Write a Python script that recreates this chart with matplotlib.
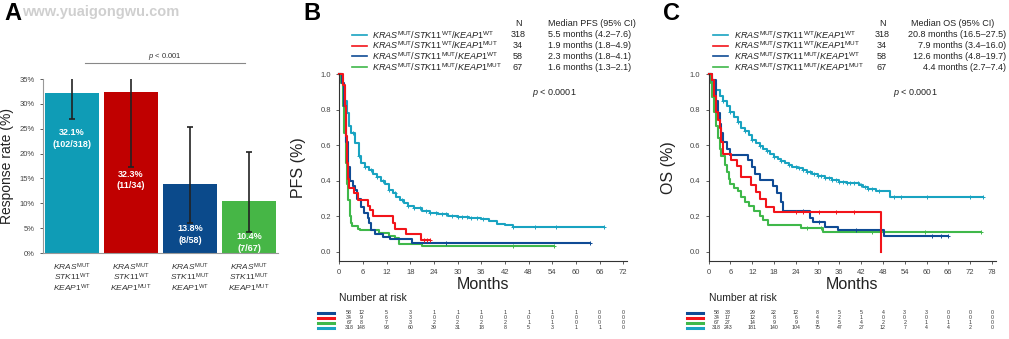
import numpy as np
import matplotlib
matplotlib.use("Agg")
import matplotlib.pyplot as plt
from matplotlib.lines import Line2D
from matplotlib.transforms import blended_transform_factory

plt.rcParams['font.family'] = ['Liberation Sans', 'DejaVu Sans']
plt.rcParams['mathtext.fontset'] = 'custom'
plt.rcParams['mathtext.rm'] = 'Liberation Sans'
plt.rcParams['mathtext.it'] = 'Liberation Sans:italic'
plt.rcParams['mathtext.bf'] = 'Liberation Sans:bold'

# ---------------- data ----------------
stk11 = ["WT", "WT", "MUT", "MUT"]
keap1 = ["WT", "MUT", "WT", "MUT"]

resp_rate = [32.1, 32.3, 13.8, 10.4]
resp_frac = ["102/318", "11/34", "8/58", "7/67"]
ci_low = [27.0, 17.3, 6.1, 4.3]
ci_high = [37.4, 49.5, 25.4, 20.3]

n_patients = [318, 34, 58, 67]
pfs_median = ["5.5 months (4.2\u20137.6)", "1.9 months (1.8\u20134.9)",
              "2.3 months (1.8\u20134.1)", "1.6 months (1.3\u20132.1)"]
os_median = ["20.8 months (16.5\u201327.5)", "7.9 months (3.4\u201316.0)",
             "12.6 months (4.8\u201319.7)", "4.4 months (2.7\u20137.4)"]

# KM steps: (month, survival)
pfs_teal = [(0, 1.0), (0.5, 0.98), (1.0, 0.93), (1.5, 0.85), (2.0, 0.78), (2.5, 0.71),
            (3.0, 0.67), (4.0, 0.61), (5.0, 0.54), (5.5, 0.50), (6.5, 0.48), (7.5, 0.46),
            (8.5, 0.44), (9.5, 0.42), (10.5, 0.40), (11.5, 0.38), (12.5, 0.35), (13.5, 0.33),
            (14.5, 0.31), (15.5, 0.29), (16.5, 0.275), (17.5, 0.26), (19.0, 0.245),
            (21.0, 0.232), (23.0, 0.22), (25.0, 0.21), (27.5, 0.203), (30.0, 0.198),
            (33.0, 0.192), (36.0, 0.185), (38.0, 0.172), (40.0, 0.158), (42.0, 0.148),
            (44.0, 0.138)]
pfs_teal_end = 67.0
pfs_teal_cens = [3.5, 5, 6.5, 8, 9.5, 11, 12.5, 14, 16, 17.5, 19, 20.5, 22, 23, 24.5, 26,
                 27, 28.5, 30, 31, 32.5, 33.5, 35, 36.5, 44, 49.5, 55, 67]

pfs_red = [(0, 1.0), (1.0, 0.94), (1.5, 0.82), (1.8, 0.65), (2.0, 0.50), (2.2, 0.41),
           (2.5, 0.36), (3.8, 0.33), (4.8, 0.29), (7.2, 0.26), (7.8, 0.235), (8.5, 0.20),
           (13.5, 0.16), (14.0, 0.13), (16.8, 0.10), (20.8, 0.065)]
pfs_red_end = 23.0
pfs_red_cens = [21.5, 22.3, 23.0]

pfs_blue = [(0, 1.0), (0.8, 0.95), (1.3, 0.82), (1.8, 0.62), (2.3, 0.48), (2.6, 0.40),
            (3.5, 0.37), (4.0, 0.35), (4.6, 0.30), (5.4, 0.25), (6.3, 0.22), (7.2, 0.19),
            (7.6, 0.16), (8.0, 0.12), (9.0, 0.10), (11.0, 0.085), (12.8, 0.07), (18.5, 0.05)]
pfs_blue_end = 63.5
pfs_blue_cens = [27.0, 63.5]

pfs_green = [(0, 1.0), (0.5, 0.95), (1.0, 0.82), (1.3, 0.67), (1.6, 0.50), (2.0, 0.38),
             (2.3, 0.29), (2.6, 0.20), (2.9, 0.16), (3.3, 0.145), (4.8, 0.13), (5.2, 0.12),
             (10.0, 0.105), (12.5, 0.09), (14.0, 0.075), (15.2, 0.045), (21.0, 0.03)]
pfs_green_end = 54.5
pfs_green_cens = [44.0, 54.5]

os_teal = [(0, 1.0), (0.5, 0.98), (1.0, 0.95), (2.0, 0.91), (3.0, 0.88), (4.0, 0.85),
           (5.0, 0.82), (6.0, 0.79), (7.0, 0.76), (8.0, 0.73), (9.0, 0.70), (10.0, 0.68),
           (11.0, 0.66), (12.0, 0.63), (13.0, 0.61), (14.0, 0.595), (15.0, 0.58),
           (16.0, 0.565), (17.0, 0.55), (18.0, 0.535), (19.0, 0.52), (20.0, 0.51),
           (21.0, 0.50), (22.0, 0.49), (23.0, 0.48), (24.5, 0.47), (26.0, 0.46),
           (27.0, 0.45), (28.5, 0.44), (30.0, 0.425), (32.0, 0.415), (34.0, 0.405),
           (36.0, 0.395), (38.0, 0.39), (40.0, 0.385), (41.5, 0.375), (42.5, 0.365),
           (44.0, 0.355), (46.0, 0.345), (48.0, 0.34), (50.0, 0.31)]
os_teal_end = 75.5
os_teal_cens = [2, 4, 6, 8, 10, 12, 14, 16, 18, 20, 22, 24, 25, 26, 27, 28, 29, 30, 31, 32,
                33, 34, 35, 36, 37, 38, 39, 40, 41, 42, 43, 44, 45, 47, 51, 53, 60, 72, 75.5]

os_red = [(0, 1.0), (1.0, 0.97), (1.5, 0.88), (2.0, 0.79), (2.5, 0.74), (3.0, 0.70),
          (3.5, 0.62), (4.0, 0.55), (6.2, 0.518), (7.9, 0.484), (8.9, 0.42), (11.6, 0.377),
          (13.0, 0.339), (14.1, 0.296), (15.8, 0.254), (18.1, 0.226), (47.4, 0.0)]
os_red_end = 47.4
os_red_cens = [24.0, 26.0, 30.5, 35.0, 40.0]

os_blue = [(0, 1.0), (1.0, 0.97), (2.0, 0.85), (2.5, 0.78), (3.0, 0.72), (3.5, 0.67),
           (4.0, 0.62), (5.0, 0.58), (5.8, 0.545), (10.7, 0.515), (11.8, 0.48),
           (12.8, 0.44), (14.0, 0.405), (17.8, 0.37), (18.8, 0.33), (19.8, 0.28),
           (20.5, 0.23), (28.0, 0.19), (28.6, 0.165), (32.0, 0.14), (35.7, 0.12),
           (48.3, 0.09)]
os_blue_end = 66.0
os_blue_cens = [26.0, 30.5, 40.5, 61.5, 64.0, 66.0]

os_green = [(0, 1.0), (0.5, 0.95), (1.0, 0.87), (1.5, 0.79), (2.0, 0.71), (2.5, 0.64),
            (3.0, 0.58), (3.5, 0.54), (4.4, 0.49), (5.0, 0.45), (5.5, 0.41), (6.0, 0.38),
            (7.0, 0.36), (8.0, 0.34), (9.0, 0.31), (10.0, 0.28), (11.0, 0.26), (12.5, 0.23),
            (14.0, 0.20), (15.0, 0.18), (16.3, 0.15), (25.5, 0.135), (31.5, 0.11)]
os_green_end = 75.0
os_green_cens = [27.0, 31.0, 45.0, 59.5, 75.0]

# numbers at risk (rows: blue, red, green, teal)
pfs_times = list(range(0, 73, 6))
risk_pfs_blue = [58, 12, 5, 3, 1, 1, 1, 1, 1, 1, 1, 0, 0]
risk_pfs_red = [34, 9, 6, 3, 0, 0, 0, 0, 0, 0, 0, 0, 0]
risk_pfs_green = [67, 8, 7, 3, 2, 2, 2, 2, 1, 1, 0, 0, 0]
risk_pfs_teal = [318, 148, 93, 60, 39, 31, 18, 8, 5, 3, 1, 1, 0]

os_times = list(range(0, 79, 6))
risk_os_blue = [58, 33, 29, 22, 12, 8, 5, 5, 4, 3, 3, 0, 0, 0]
risk_os_red = [34, 17, 12, 8, 6, 4, 2, 1, 0, 0, 0, 0, 0, 0]
risk_os_green = [67, 27, 14, 9, 9, 8, 5, 4, 2, 2, 1, 1, 1, 0]
risk_os_teal = [318, 243, 181, 140, 104, 75, 47, 27, 12, 7, 4, 4, 2, 0]

# ---------------- style ----------------
bar_colors = ['#0f9cb6', '#c00000', '#0b4a8b', '#46b646']
teal, red, blue, green = '#19a3c1', '#f2141a', '#0f4b95', '#3fb84a'
W, H = 1009, 339

fig = plt.figure(figsize=(W / 100, H / 100), dpi=100)


def px_axes(left, top, right, bottom):
    return fig.add_axes([left / W, 1 - bottom / H, (right - left) / W, (bottom - top) / H])


def gene(name, sup):
    return r"\mathit{%s}^{\mathrm{%s}}" % (name, sup)


def combo(s, k):
    return "$" + gene("KRAS", "MUT") + r"\mathit{/}" + gene("STK11", s) + \
        r"\mathit{/}" + gene("KEAP1", k) + "$"


# ---------------- panel A ----------------
axA = px_axes(43, 79, 278, 253)
x = np.arange(len(resp_rate))
axA.bar(x, resp_rate, width=0.9, color=bar_colors)
axA.errorbar(x, resp_rate,
             yerr=[np.array(resp_rate) - np.array(ci_low), np.array(ci_high) - np.array(resp_rate)],
             fmt='none', ecolor='#222222', elinewidth=1.2, capsize=2, capthick=1.2)
label_y = [23.0, 14.7, 3.7, 2.1]
for xi, r, f, ly in zip(x, resp_rate, resp_frac, label_y):
    axA.text(xi, ly, f"{r}%\n({f})", ha='center', va='center', color='white',
             fontsize=6.5, fontweight='bold', linespacing=1.35)
axA.set_xlim(-0.49, 3.49)
axA.set_ylim(0, 35)
axA.set_yticks(range(0, 36, 5))
axA.set_yticklabels([f"{v}%" for v in range(0, 36, 5)])
axA.set_xticks(x)
axA.set_xticklabels(["$" + gene("KRAS", "MUT") + "$\n$" + gene("STK11", s) + "$\n$" +
                     gene("KEAP1", k) + "$" for s, k in zip(stk11, keap1)],
                    fontsize=6, color='#333333', linespacing=0.95)
axA.tick_params(axis='x', length=0, pad=6)
axA.tick_params(axis='y', labelsize=5.5, colors='#444444', length=2.5, width=0.6)
for sp in ['top', 'right']:
    axA.spines[sp].set_visible(False)
for sp in ['left', 'bottom']:
    axA.spines[sp].set_color('#999999')
axA.set_ylabel('Response rate (%)', fontsize=10, color='#222222')
axA.yaxis.set_label_coords(-0.125, 0.5)
axA.plot([0.22, 2.93], [38.2, 38.2], color='#888888', lw=0.8, clip_on=False)
axA.text(1.57, 38.5, r"$\mathit{p}$ < 0.001", ha='center', va='bottom', fontsize=5.5,
         color='#333333')


# ---------------- KM panels ----------------
def km(ax, pts, end, cens, color):
    t = [p[0] for p in pts] + [end]
    s = [p[1] for p in pts] + [pts[-1][1]]
    ax.step(t, s, where='post', color=color, lw=1.5, clip_on=False)
    idx = np.searchsorted(np.array(t[:-1]), np.array(cens), side='right') - 1
    ax.plot(cens, np.array(s)[idx], '+', color=color, ms=3.2, mew=0.7, clip_on=False)


def km_panel(ax, curves, xmax, xticks, ylabel):
    for pts, end, cens, col in curves:
        km(ax, pts, end, cens, col)
    ax.set_xlim(0, xmax)
    ax.set_ylim(-0.05, 1.0)
    ax.set_xticks(xticks)
    ax.set_yticks([0, 0.2, 0.4, 0.6, 0.8, 1.0])
    ax.set_yticklabels(['0.0', '0.2', '0.4', '0.6', '0.8', '1.0'])
    ax.tick_params(labelsize=5.5, colors='#444444', length=2.5, width=0.6)
    for sp in ['top', 'right']:
        ax.spines[sp].set_visible(False)
    for sp in ['left', 'bottom']:
        ax.spines[sp].set_color('#333333')
        ax.spines[sp].set_linewidth(0.8)
    ax.set_ylabel(ylabel, fontsize=11.5, color='#222222')
    ax.set_xlabel('Months', fontsize=11.5, color='#222222', labelpad=1)
    ax.yaxis.set_label_coords(-0.115, 0.5)


def legend_block(x_line, x_text, x_n, x_med, med_align, header, medians, ytop):
    rows = [(teal, "WT", "WT"), (red, "WT", "MUT"), (blue, "MUT", "WT"), (green, "MUT", "MUT")]
    fig.text(x_n / W, 1 - ytop / H, "N", ha='center', va='center', fontsize=6.5, color='#222222')
    fig.text(x_med[0] / W, 1 - ytop / H, header, ha='left', va='center', fontsize=6.5,
             color='#222222')
    for i, ((col, s, k), n, med) in enumerate(zip(rows, n_patients, medians)):
        y = 1 - (ytop + 10.8 * (i + 1)) / H
        fig.add_artist(Line2D([x_line[0] / W, x_line[1] / W], [y, y], color=col, lw=1.2))
        fig.text(x_text / W, y, combo(s, k), ha='left', va='center', fontsize=6.5,
                 color='#222222')
        fig.text(x_n / W, y, str(n), ha='center', va='center', fontsize=6.5, color='#222222')
        fig.text(x_med[1] / W, y, med, ha=med_align, va='center', fontsize=6.5,
                 color='#222222')


def risk_table(ax, times, rows, first_x, x_line):
    tr = blended_transform_factory(ax.transData, fig.transFigure)
    cols = [blue, red, green, teal]
    fig.text(ax.get_position().x0, 1 - 298 / H, "Number at risk", ha='left', va='center',
             fontsize=7.5, color='#222222')
    for j, (vals, col) in enumerate(zip(rows, cols)):
        y = 1 - (312.5 + 5 * j) / H
        fig.add_artist(Line2D([x_line[0] / W, x_line[1] / W], [y, y], color=col, lw=2.2))
        xs = list(times)
        xs[0], xs[1] = first_x
        for xv, v in zip(xs, vals):
            ax.text(xv, y, str(v), transform=tr, ha='center', va='center', fontsize=3.8,
                    color='#333333')


axB = px_axes(339.3, 74.3, 627.2, 260.6)
km_panel(axB, [(pfs_teal, pfs_teal_end, pfs_teal_cens, teal),
               (pfs_green, pfs_green_end, pfs_green_cens, green),
               (pfs_blue, pfs_blue_end, pfs_blue_cens, blue),
               (pfs_red, pfs_red_end, pfs_red_cens, red)],
         73, range(0, 73, 6), 'PFS (%)')
fig.text(554 / W, 1 - 93 / H, r"$\mathit{p}$ < 0.0001", fontsize=6.5, ha='center',
         va='center', color='#222222')
legend_block((352, 367), 372, 518, (548, 548), 'left', "Median PFS (95% CI)", pfs_median, 24)
risk_table(axB, pfs_times, [risk_pfs_blue, risk_pfs_red, risk_pfs_green, risk_pfs_teal],
           (2.5, 5.6), (318, 334))

axC = px_axes(708.7, 74.3, 995.5, 260.6)
km_panel(axC, [(os_teal, os_teal_end, os_teal_cens, teal),
               (os_green, os_green_end, os_green_cens, green),
               (os_blue, os_blue_end, os_blue_cens, blue),
               (os_red, os_red_end, os_red_cens, red)],
         79, range(0, 79, 6), 'OS (%)')
fig.text(915 / W, 1 - 93 / H, r"$\mathit{p}$ < 0.0001", fontsize=6.5, ha='center',
         va='center', color='#222222')
legend_block((713, 728), 734, 882, (911, 1006), 'right', "Median OS (95% CI)", os_median, 24)
risk_table(axC, os_times, [risk_os_blue, risk_os_red, risk_os_green, risk_os_teal],
           (2.2, 5.3), (687, 703))

# ---------------- panel letters & watermark ----------------
fig.text(13 / W, 1 - 14 / H, "A", fontsize=17, fontweight='bold', ha='center', va='center')
fig.text(312 / W, 1 - 14 / H, "B", fontsize=17, fontweight='bold', ha='center', va='center')
fig.text(672 / W, 1 - 14 / H, "C", fontsize=17, fontweight='bold', ha='center', va='center')
fig.text(22 / W, 1 - 12 / H, "www.yuaigongwu.com", fontsize=10.5, fontweight='bold',
         color='#c4c4c4', alpha=0.8, ha='left', va='center')

fig.savefig("out.png", dpi=100)
